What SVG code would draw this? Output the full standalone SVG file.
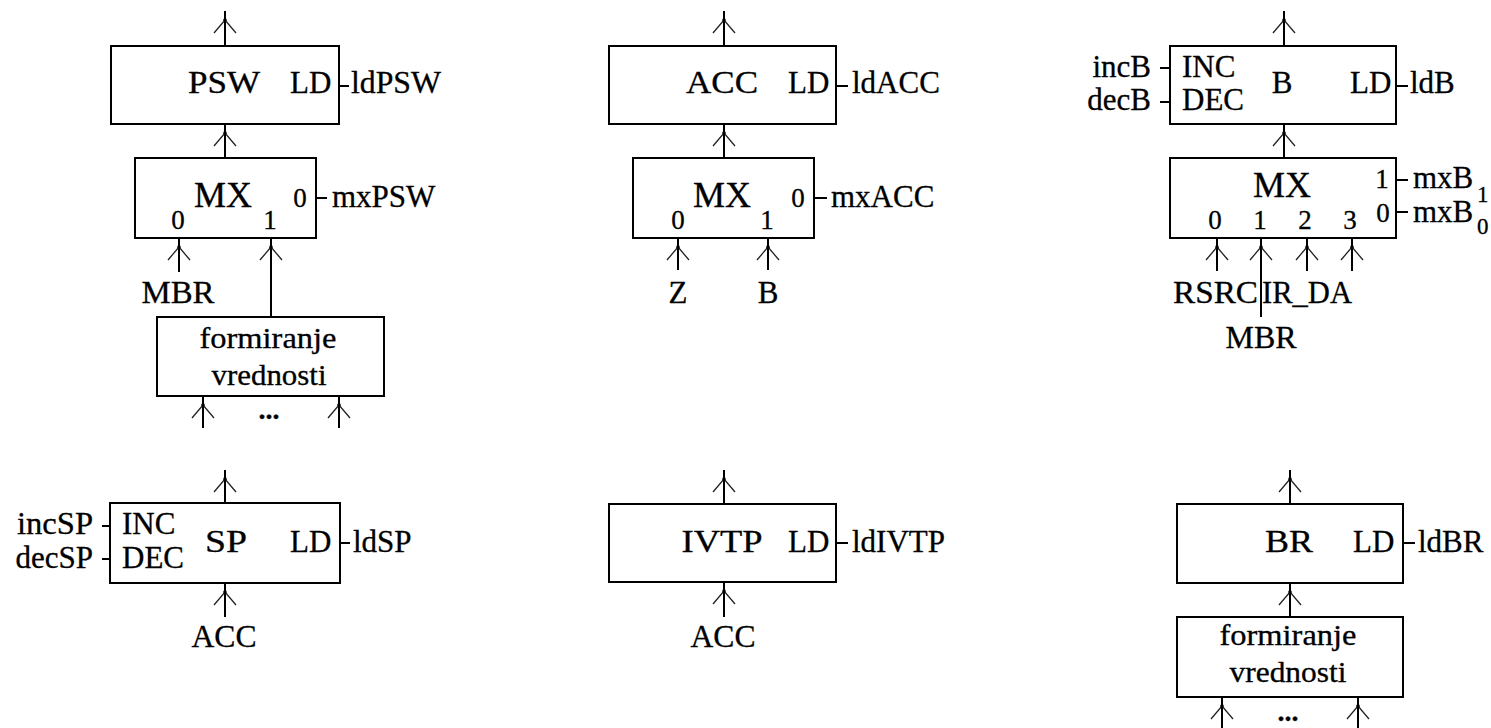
<svg xmlns="http://www.w3.org/2000/svg" width="1491" height="728" viewBox="0 0 1491 728">
  <style>
    text { font-family: "Liberation Serif", "Times New Roman", serif; fill: #000; stroke: #000; stroke-width: 0.3; }
    .lb { font-size: 31px; }
    .mx { font-size: 36px; }
    .dg { font-size: 27px; }
    .sub { font-size: 23px; }
    .fv { font-size: 29px; }
    .c { text-anchor: middle; }
    .e { text-anchor: end; }
    .box { fill: #fff; stroke: #000; stroke-width: 2; }
    .wire { fill: none; stroke: #000; stroke-width: 2; }
    .arr { fill: none; stroke: #000; stroke-width: 2; marker-end: url(#ah); }
    .dots { font-size: 28px; font-weight: bold; }
  </style>
  <defs>
    <!-- open chevron head, vertex set a little back from the wire end -->
    <marker id="ah" markerUnits="userSpaceOnUse" orient="auto" markerWidth="40" markerHeight="40" viewBox="-30 -15 40 30" refX="0" refY="0" overflow="visible">
      <path d="M-22,-11 L-9,0 L-22,11" fill="none" stroke="#222" stroke-width="1.3"/>
      <circle cx="-9" cy="0" r="1.8" fill="#000"/>
    </marker>
  </defs>
  <rect width="1491" height="728" fill="#fff"/>

  <!-- PSW register with its multiplexer -->
  <g id="psw">
    <rect class="box" x="111" y="46" width="228" height="78"/>
    <text class="lb c" x="224" y="93" textLength="72" lengthAdjust="spacingAndGlyphs">PSW</text>
    <text class="lb" x="290" y="93">LD</text>
    <text class="lb" x="351" y="93" textLength="90" lengthAdjust="spacingAndGlyphs">ldPSW</text>
  </g>
  <g id="psw-mx">
    <rect class="box" x="135" y="158" width="181" height="80"/>
    <text class="mx c" x="223" y="207">MX</text>
    <text class="dg c" x="178" y="229">0</text>
    <text class="dg c" x="270" y="229">1</text>
    <text class="dg c" x="300" y="207">0</text>
    <text class="lb" x="332" y="207">mxPSW</text>
    <text class="lb c" x="178" y="303" textLength="73" lengthAdjust="spacingAndGlyphs">MBR</text>
  </g>
  <g id="psw-form">
    <rect class="box" x="157" y="317" width="227" height="79"/>
    <text class="fv c" x="268" y="348" textLength="137" lengthAdjust="spacingAndGlyphs">formiranje</text>
    <text class="fv c" x="269" y="385" textLength="115" lengthAdjust="spacingAndGlyphs">vrednosti</text>
    <text class="dots c" x="269" y="419">...</text>
  </g>

  <!-- ACC register with its multiplexer -->
  <g id="acc">
    <rect class="box" x="609" y="46" width="227" height="78"/>
    <text class="lb c" x="722" y="93" textLength="72" lengthAdjust="spacingAndGlyphs">ACC</text>
    <text class="lb" x="788" y="93">LD</text>
    <text class="lb" x="852" y="93">ldACC</text>
  </g>
  <g id="acc-mx">
    <rect class="box" x="633" y="158" width="181" height="80"/>
    <text class="mx c" x="722" y="207">MX</text>
    <text class="dg c" x="678" y="229">0</text>
    <text class="dg c" x="767" y="229">1</text>
    <text class="dg c" x="798" y="207">0</text>
    <text class="lb" x="831" y="207">mxACC</text>
    <text class="lb c" x="678" y="303">Z</text>
    <text class="lb c" x="768" y="303">B</text>
  </g>

  <!-- B register with its 4-input multiplexer -->
  <g id="b">
    <rect class="box" x="1170" y="46" width="226" height="78"/>
    <text class="lb" x="1182" y="77">INC</text>
    <text class="lb" x="1182" y="110">DEC</text>
    <text class="lb e" x="1151" y="77">incB</text>
    <text class="lb e" x="1151" y="110">decB</text>
    <text class="lb c" x="1282" y="93">B</text>
    <text class="lb" x="1350" y="93">LD</text>
    <text class="lb" x="1410" y="93">ldB</text>
  </g>
  <g id="b-mx">
    <rect class="box" x="1170" y="158" width="226" height="80"/>
    <text class="mx c" x="1282" y="197">MX</text>
    <text class="dg c" x="1382" y="188">1</text>
    <text class="dg c" x="1383" y="222">0</text>
    <text class="lb" x="1413" y="188">mxB</text>
    <text class="sub" x="1477" y="202">1</text>
    <text class="lb" x="1413" y="222">mxB</text>
    <text class="sub" x="1477" y="234">0</text>
    <text class="dg c" x="1215" y="229">0</text>
    <text class="dg c" x="1260" y="229">1</text>
    <text class="dg c" x="1305" y="229">2</text>
    <text class="dg c" x="1350" y="229">3</text>
    <text class="lb" x="1173" y="303" textLength="85" lengthAdjust="spacingAndGlyphs">RSRC</text>
    <text class="lb" x="1262" y="303" textLength="90" lengthAdjust="spacingAndGlyphs">IR_DA</text>
    <text class="lb c" x="1261" y="348" textLength="71" lengthAdjust="spacingAndGlyphs">MBR</text>
  </g>

  <!-- SP register -->
  <g id="sp">
    <rect class="box" x="110" y="503" width="230" height="80"/>
    <text class="lb" x="122" y="534">INC</text>
    <text class="lb" x="122" y="568">DEC</text>
    <text class="lb e" x="93" y="534" textLength="76" lengthAdjust="spacingAndGlyphs">incSP</text>
    <text class="lb e" x="93" y="568">decSP</text>
    <text class="lb c" x="226" y="552" textLength="42" lengthAdjust="spacingAndGlyphs">SP</text>
    <text class="lb" x="290" y="552">LD</text>
    <text class="lb" x="353" y="552">ldSP</text>
    <text class="lb c" x="224" y="647" textLength="65" lengthAdjust="spacingAndGlyphs">ACC</text>
  </g>

  <!-- IVTP register -->
  <g id="ivtp">
    <rect class="box" x="609" y="504" width="227" height="78"/>
    <text class="lb c" x="722" y="552" textLength="81" lengthAdjust="spacingAndGlyphs">IVTP</text>
    <text class="lb" x="788" y="552">LD</text>
    <text class="lb" x="852" y="552">ldIVTP</text>
    <text class="lb c" x="723" y="647" textLength="65" lengthAdjust="spacingAndGlyphs">ACC</text>
  </g>

  <!-- BR register with value forming logic -->
  <g id="br">
    <rect class="box" x="1177" y="504" width="226" height="79"/>
    <text class="lb c" x="1289" y="552" textLength="48" lengthAdjust="spacingAndGlyphs">BR</text>
    <text class="lb" x="1353" y="552">LD</text>
    <text class="lb" x="1418" y="552">ldBR</text>
  </g>
  <g id="br-form">
    <rect class="box" x="1177" y="617" width="226" height="80"/>
    <text class="fv c" x="1288" y="645" textLength="137" lengthAdjust="spacingAndGlyphs">formiranje</text>
    <text class="fv c" x="1288" y="682" textLength="117" lengthAdjust="spacingAndGlyphs">vrednosti</text>
    <text class="dots c" x="1288" y="721">...</text>
  </g>

  <!-- connectors -->
  <g id="connectors">
    <!-- PSW -->
    <path class="arr" d="M225,46 V11"/>
    <path class="arr" d="M225,158 V124"/>
    <path class="arr" d="M179,272 V238"/>
    <path class="arr" d="M271,317 V238"/>
    <path class="arr" d="M203,428 V396"/>
    <path class="arr" d="M339,428 V396"/>
    <path class="wire" d="M339,86 H349 M316,198 H327"/>
    <!-- ACC -->
    <path class="arr" d="M724,46 V11"/>
    <path class="arr" d="M724,158 V124"/>
    <path class="arr" d="M678,270 V238"/>
    <path class="arr" d="M768,270 V238"/>
    <path class="wire" d="M836,86 H848 M814,198 H827"/>
    <!-- B -->
    <path class="arr" d="M1284,46 V11"/>
    <path class="arr" d="M1284,158 V124"/>
    <path class="arr" d="M1217,271 V238"/>
    <path class="arr" d="M1261,317 V238"/>
    <path class="arr" d="M1307,271 V238"/>
    <path class="arr" d="M1352,271 V238"/>
    <path class="wire" d="M1160,68 H1170 M1160,102 H1170 M1396,86 H1408 M1396,180 H1408 M1396,212 H1408"/>
    <!-- SP -->
    <path class="arr" d="M225,503 V470"/>
    <path class="arr" d="M225,617 V583"/>
    <path class="wire" d="M102,526 H110 M102,559 H110 M340,543 H350"/>
    <!-- IVTP -->
    <path class="arr" d="M724,504 V470"/>
    <path class="arr" d="M724,617 V582"/>
    <path class="wire" d="M836,543 H848"/>
    <!-- BR -->
    <path class="arr" d="M1290,504 V470"/>
    <path class="arr" d="M1290,617 V583"/>
    <path class="arr" d="M1222,730 V697"/>
    <path class="arr" d="M1358,730 V697"/>
    <path class="wire" d="M1403,543 H1415"/>
  </g>
</svg>
